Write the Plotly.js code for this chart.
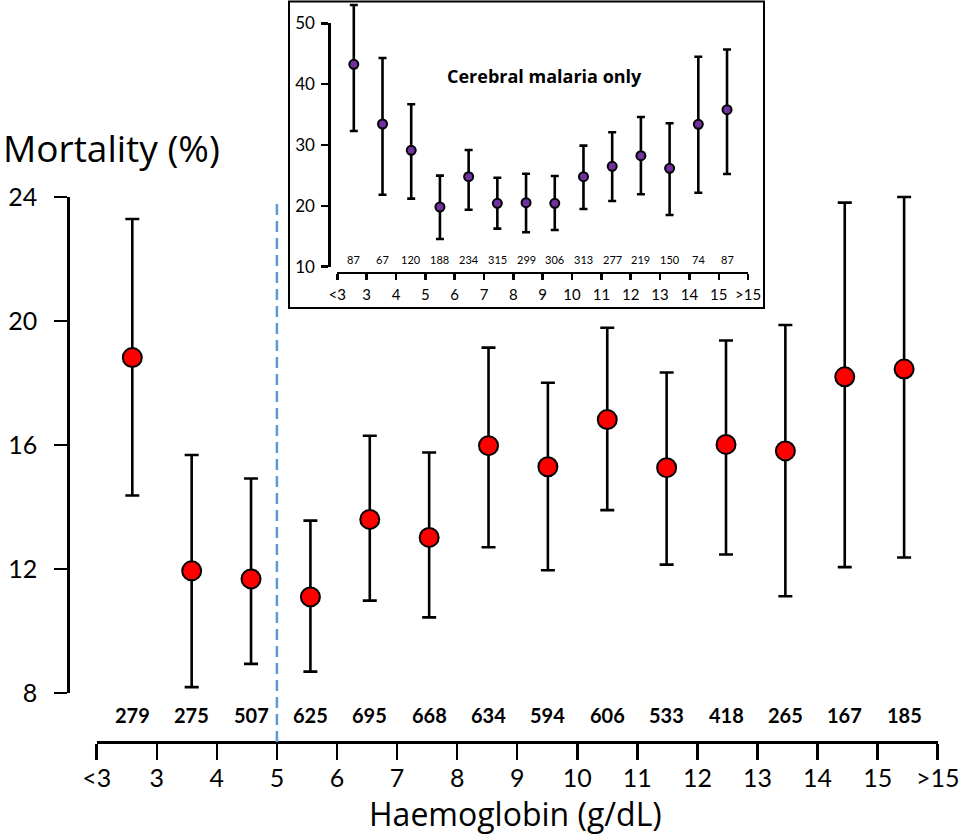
<!DOCTYPE html>
<html>
<head>
<meta charset="utf-8">
<script src="https://cdn.plot.ly/plotly-3.0.1.min.js"></script>
<style>html,body{margin:0;padding:0;background:#fff;}#chart{width:969px;height:837px;}</style>
</head>
<body>
<div id="chart"></div>
<script>
// ---- Main chart data (all severe malaria) ----
const categories = ["<3","3–4","4–5","5–6","6–7","7–8","8–9","9–10","10–11","11–12","12–13","13–14","14–15",">15"];
const tickLabels = ["<3","3","4","5","6","7","8","9","10","11","12","13","14","15",">15"];
const mortality = [18.82, 11.94, 11.68, 11.10, 13.60, 13.02, 15.98, 15.30, 16.82, 15.27, 16.02, 15.81, 18.20, 18.45];
const ciUpper   = [23.29, 15.68, 14.92, 13.56, 16.30, 15.76, 19.14, 18.01, 19.78, 18.34, 19.37, 19.87, 23.82, 24.00];
const ciLower   = [14.37,  8.19,  8.94,  8.69, 10.98, 10.44, 12.70, 11.96, 13.90, 12.14, 12.47, 11.12, 12.06, 12.37];
const counts    = [279, 275, 507, 625, 695, 668, 634, 594, 606, 533, 418, 265, 167, 185];

// ---- Inset data (cerebral malaria only) ----
const cmMortality = [43.26, 33.45, 29.13, 19.81, 24.79, 20.42, 20.52, 20.42, 24.79, 26.50, 28.24, 26.17, 33.40, 35.80];
const cmUpper     = [53.00, 44.30, 36.69, 24.96, 29.18, 24.63, 25.28, 24.90, 29.89, 32.09, 34.60, 33.57, 44.50, 45.70];
const cmLower     = [32.30, 21.83, 21.18, 14.55, 19.37, 16.25, 15.65, 16.03, 19.48, 20.80, 21.90, 18.50, 22.16, 25.23];
const cmCounts    = [87, 67, 120, 188, 234, 315, 299, 306, 313, 277, 219, 150, 74, 87];

const yTitle = "Mortality (%)";
const xTitle = "Haemoglobin (g/dL)";
const insetTitle = "Cerebral malaria only";

// ---- layout helpers ----
const W = 969, H = 837;
const FONT = "Lato, 'Open Sans', sans-serif";
const WIDE = "'Open Sans', Lato, sans-serif";
const px = x => x / W;
const py = y => (H - y) / H;

const minus = (a, b) => a.map((v, i) => v - b[i]);

const traces = [
  {
    type: "scatter", mode: "markers", x: categories, y: mortality,
    xaxis: "x", yaxis: "y", hoverinfo: "skip", showlegend: false,
    marker: { size: 19, color: "#FF0000", line: { color: "#000", width: 2 } },
    error_y: { type: "data", symmetric: false, array: minus(ciUpper, mortality), arrayminus: minus(mortality, ciLower),
               color: "#000", thickness: 2.6, width: 7 }
  },
  { type: "scatter", x: [], y: [], xaxis: "x2", yaxis: "y2", hoverinfo: "skip", showlegend: false },
  {
    type: "scatter", mode: "markers", x: categories, y: cmMortality,
    xaxis: "x3", yaxis: "y3", hoverinfo: "skip", showlegend: false,
    marker: { size: 9, color: "#7030A0", line: { color: "#000", width: 2 } },
    error_y: { type: "data", symmetric: false, array: minus(cmUpper, cmMortality), arrayminus: minus(cmMortality, cmLower),
               color: "#000", thickness: 2.6, width: 4 }
  },
  { type: "scatter", x: [], y: [], xaxis: "x4", yaxis: "y4", hoverinfo: "skip", showlegend: false }
];

const hidden = { visible: false, showgrid: false, zeroline: false, fixedrange: true };
const axStyle = { showgrid: false, zeroline: false, showline: true, linecolor: "#000", tickcolor: "#000",
                  ticks: "outside", automargin: false, fixedrange: true };

const annotations = [];
annotations.push({ text: yTitle, xref: "paper", yref: "paper", x: px(1), y: py(147), xanchor: "left", yanchor: "middle",
                   showarrow: false, font: { family: WIDE, size: 37, color: "#000" } });
annotations.push({ text: xTitle, xref: "paper", yref: "paper", x: px(515), y: py(813), xanchor: "center", yanchor: "middle",
                   showarrow: false, font: { family: WIDE, size: 32, color: "#000" } });
annotations.push({ text: "<b>" + insetTitle + "</b>", xref: "paper", yref: "paper", x: px(544), y: py(76), xanchor: "center", yanchor: "middle",
                   showarrow: false, font: { family: WIDE, size: 18, color: "#000" } });
counts.forEach((c, i) => annotations.push({
  text: "<b>" + c + "</b>", xref: "x", yref: "paper", x: i, y: py(715), xanchor: "center", yanchor: "middle",
  showarrow: false, font: { family: FONT, size: 20, color: "#000" } }));
cmCounts.forEach((c, i) => annotations.push({
  text: String(c), xref: "x3", yref: "paper", x: i, y: py(259.5), xanchor: "center", yanchor: "middle",
  showarrow: false, font: { family: FONT, size: 11, color: "#000" } }));

const layout = {
  width: W, height: H, margin: { l: 0, r: 0, t: 0, b: 0, pad: 0 },
  paper_bgcolor: "#fff", plot_bgcolor: "rgba(0,0,0,0)", showlegend: false,
  font: { family: FONT, color: "#000" },
  // main data axes (hidden), same scale as the visible axes
  xaxis: Object.assign({}, hidden, { domain: [0, 1], range: [-2.2284, 14.093], anchor: "y", type: "category" }),
  yaxis: Object.assign({}, hidden, { domain: [0, 1], range: [3.355, 30.355], anchor: "x" }),
  // main visible axes
  xaxis2: Object.assign({}, axStyle, { domain: [px(96.7), px(937.7)], range: [0, 14], anchor: "free", position: py(742),
            tickmode: "array", tickvals: tickLabels.map((_, i) => i), ticktext: tickLabels,
            ticklen: 16, tickwidth: 2.5, linewidth: 2.5, ticklabelstandoff: -3,
            tickfont: { family: FONT, size: 25, color: "#000" } }),
  yaxis2: Object.assign({}, axStyle, { domain: [py(693), py(197)], range: [8, 24], anchor: "free", position: px(68.3),
            tickmode: "linear", tick0: 8, dtick: 4,
            ticklen: 13, tickwidth: 2.5, linewidth: 2.5, ticklabelstandoff: 12,
            tickfont: { family: FONT, size: 25, color: "#000" } }),
  // inset data axes (hidden)
  xaxis3: Object.assign({}, hidden, { domain: [0, 1], range: [-12.323, 21.428], anchor: "y3", type: "category" }),
  yaxis3: Object.assign({}, hidden, { domain: [0, 1], range: [-83.722, 53.829], anchor: "x3" }),
  // inset visible axes
  xaxis4: Object.assign({}, axStyle, { domain: [px(337.3), px(748.1)], range: [0, 14], anchor: "free", position: py(272.7),
            tickmode: "array", tickvals: tickLabels.map((_, i) => i), ticktext: tickLabels,
            ticklen: 6, tickwidth: 2.5, linewidth: 2.5, ticklabelstandoff: 2,
            tickfont: { family: FONT, size: 15, color: "#000" } }),
  yaxis4: Object.assign({}, axStyle, { domain: [py(266.7), py(23.3)], range: [10, 50], anchor: "free", position: px(329.3),
            tickmode: "linear", tick0: 10, dtick: 10,
            ticklen: 7, tickwidth: 2.5, linewidth: 2.5, ticklabelstandoff: 3,
            tickfont: { family: FONT, size: 17, color: "#000" } }),
  shapes: [
    { type: "line", xref: "x2", yref: "paper", x0: 3, x1: 3, y0: py(742), y1: py(200),
      line: { color: "#5B9BD5", width: 2.5, dash: "11px,6px" } },
    { type: "rect", xref: "paper", yref: "paper", x0: px(289), x1: px(764), y0: py(308), y1: py(1.5),
      line: { color: "#000", width: 2 }, fillcolor: "rgba(0,0,0,0)" }
  ],
  annotations: annotations
};

Plotly.newPlot("chart", traces, layout, { staticPlot: true, displayModeBar: false });
</script>
</body>
</html>
